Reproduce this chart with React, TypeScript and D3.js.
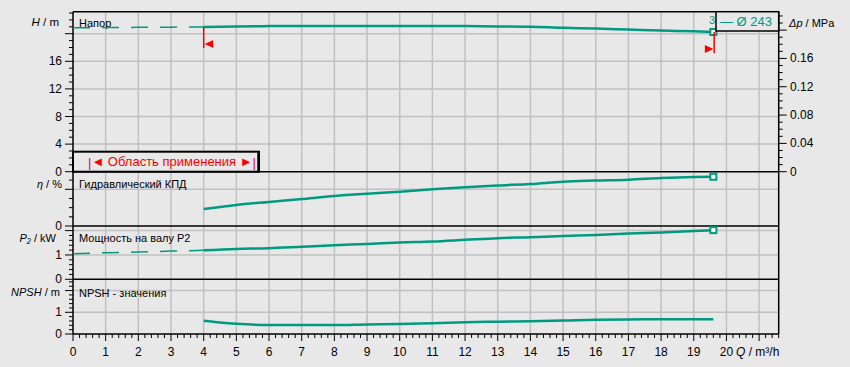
import React from "react";
import * as d3 from "d3";

const flowH = [0, 1, 2, 3, 4, 5, 6, 8, 10, 12, 13, 14, 15, 16, 17, 18, 19, 19.6];
const head = [20.85, 20.9, 20.92, 20.95, 20.98, 21.05, 21.1, 21.12, 21.12, 21.1, 21.05, 21.0, 20.85, 20.75, 20.6, 20.45, 20.35, 20.25];

const flowEta = [4, 4.5, 5, 6, 7, 8, 9, 10, 11, 12, 13, 14, 15, 16, 17, 18, 19, 19.6];
const eta = [18.5, 20.7, 22.9, 26.2, 29.4, 32.7, 35.2, 37.4, 40, 42.2, 44.2, 45.8, 48.3, 49.5, 50.5, 52.3, 53.4, 53.7];

const flowP2 = [0, 1, 2, 3, 4, 5, 6, 7, 8, 9, 10, 11, 12, 13, 14, 15, 16, 17, 18, 19, 19.6];
const power = [1.05, 1.09, 1.12, 1.16, 1.19, 1.25, 1.28, 1.34, 1.4, 1.45, 1.51, 1.55, 1.62, 1.69, 1.73, 1.78, 1.82, 1.88, 1.92, 1.98, 2.02];

const flowN = [4, 4.5, 5, 6, 7, 8, 9, 10, 11, 12, 13, 14, 15, 16, 17, 18, 19, 19.6];
const npsh = [0.61, 0.53, 0.47, 0.41, 0.41, 0.41, 0.44, 0.46, 0.5, 0.54, 0.57, 0.59, 0.62, 0.66, 0.67, 0.68, 0.68, 0.68];

const xTickLabels = d3.range(0, 21);
const hTickLabels = [0, 4, 8, 12, 16];
const pTickLabels = ["0", "0.04", "0.08", "0.12", "0.16"];
const qMin = 4;
const qMax = 19.6;

const TEAL = "#009a80";
const RED = "#ff0000";
const BG = "#e8e8e8";
const GRID = "#c0c0c0";
const FONT = "'Liberation Sans', Arial, sans-serif";

const L = 73, R = 778.7, T = 11.7;
const yHb = 171.7, yEb = 226, yPb = 279.3, yNb = 334;

const x = d3.scaleLinear().domain([0, 21.6]).range([L, R]);
const yH = d3.scaleLinear().domain([0, 160 / 6.9]).range([yHb, T]);
const yDp = d3.scaleLinear().domain([0, 160 / 6.9 / 102.6]).range([yHb, T]);
const yE = d3.scaleLinear().domain([0, 59.2]).range([yEb, yHb]);
const yP = d3.scaleLinear().domain([0, 2.19]).range([yPb, yEb]);
const yN = d3.scaleLinear().domain([0, 2.52]).range([yNb, yPb]);

function pts(xs: number[], ys: number[], lo: number, hi: number) {
  return xs.map((q, i) => [q, ys[i]] as [number, number]).filter((d) => d[0] >= lo - 1e-9 && d[0] <= hi + 1e-9);
}

function pathFor(data: [number, number][], ys: d3.ScaleLinear<number, number>) {
  const line = d3.line<[number, number]>().x((d) => x(d[0])).y((d) => ys(d[1])).curve(d3.curveMonotoneX);
  return line(data) || "";
}

export default function App() {
  const hDash = pts(flowH, head, 0, qMin);
  const hSolid = pts(flowH, head, qMin, qMax);
  const pDash = pts(flowP2, power, 0, qMin);
  const pSolid = pts(flowP2, power, qMin, qMax);
  const eSolid = pts(flowEta, eta, qMin, qMax);
  const nSolid = pts(flowN, npsh, qMin, qMax);

  const hAt = (q: number) => head[flowH.indexOf(q)];
  const xs = x(qMin), xe = x(qMax);
  const ys0 = yH(hAt(qMin)), ye0 = yH(hAt(qMax));

  const minorX = d3.range(0, 21.6 + 1e-9, 0.2);
  const hMinor = d3.range(0, 23.1, 1);
  const eMinor = d3.range(0, 51, 10);
  const pMinor = d3.range(0, 2.19, 0.2);
  const nMinor = d3.range(0, 2.52, 0.2);
  const dpMinor = d3.range(0, 0.225, 0.01);

  const leftTick = (y: number, major: boolean, key: string) => (
    <line key={key} x1={L - (major ? 8 : 4)} x2={L} y1={y} y2={y} stroke="#000" strokeWidth={1} />
  );
  const label = (y: number, t: string, key: string) => (
    <text key={key} x={62} y={y} textAnchor="end" dominantBaseline="central" fontSize={12} fontFamily={FONT} fill="#000">{t}</text>
  );

  return (
    <svg width={850} height={367} style={{ position: "absolute", left: 0, top: 0 }} xmlns="http://www.w3.org/2000/svg">
      <rect x={0} y={0} width={850} height={367} fill={BG} />
      {/* vertical grid */}
      {d3.range(1, 22).map((q) => (
        <line key={"vg" + q} x1={x(q)} x2={x(q)} y1={T} y2={yNb} stroke={GRID} strokeWidth={1.5} />
      ))}
      {/* horizontal grid */}
      {[4, 8, 12, 16, 20].map((h) => (
        <line key={"hg" + h} x1={L} x2={R} y1={yH(h)} y2={yH(h)} stroke={GRID} strokeWidth={1.5} />
      ))}
      <line x1={L} x2={R} y1={yE(40)} y2={yE(40)} stroke={GRID} strokeWidth={1.5} />
      {[1, 2].map((p) => (
        <line key={"pg" + p} x1={L} x2={R} y1={yP(p)} y2={yP(p)} stroke={GRID} strokeWidth={1.5} />
      ))}
      {[1, 2].map((n) => (
        <line key={"ng" + n} x1={L} x2={R} y1={yN(n)} y2={yN(n)} stroke={GRID} strokeWidth={1.5} />
      ))}

      {/* panel separators and frame */}
      {[T, yHb, yEb, yPb, yNb].map((y, i) => (
        <line key={"sep" + i} x1={L} x2={R} y1={y} y2={y} stroke="#000" strokeWidth={1.5} />
      ))}
      <line x1={L} x2={L} y1={T} y2={yNb} stroke="#000" strokeWidth={1.5} />
      <line x1={R} x2={R} y1={T} y2={yNb} stroke="#000" strokeWidth={1.5} />

      {/* left ticks */}
      {hMinor.map((h) => leftTick(yH(h), h % 4 === 0, "ht" + h))}
      {eMinor.map((e) => leftTick(yE(e), e === 0 || e === 40, "et" + e))}
      {pMinor.map((p, i) => leftTick(yP(p), i % 5 === 0, "pt" + i))}
      {nMinor.map((n, i) => leftTick(yN(n), i % 5 === 0, "nt" + i))}
      {hTickLabels.map((h) => label(yH(h), String(h), "hl" + h))}
      {label(yE(0), "0", "el0")}
      {label(yP(0), "0", "pl0")}
      {label(yP(1), "1", "pl1")}
      {label(yN(0), "0", "nl0")}
      {label(yN(1), "1", "nl1")}

      {/* right ticks */}
      {dpMinor.map((p, i) => (
        <line key={"dt" + i} x1={R} x2={R + (i % 4 === 0 ? 8 : 4)} y1={yDp(p)} y2={yDp(p)} stroke="#000" strokeWidth={1} />
      ))}
      {pTickLabels.map((t) => (
        <text key={"dl" + t} x={790} y={yDp(+t)} dominantBaseline="central" fontSize={12} fontFamily={FONT} fill="#000">{t}</text>
      ))}

      {/* bottom ticks */}
      {minorX.map((q, i) => (
        <line key={"xt" + i} x1={x(q)} x2={x(q)} y1={yNb} y2={yNb + (i % 5 === 0 ? 7 : 4)} stroke="#000" strokeWidth={1} />
      ))}
      {xTickLabels.map((q) => (
        <text key={"xl" + q} x={x(q)} y={352} textAnchor="middle" dominantBaseline="central" fontSize={12} fontFamily={FONT} fill="#000">{q}</text>
      ))}
      <text x={736} y={352} dominantBaseline="central" fontSize={12} fontFamily={FONT} fill="#000">
        <tspan fontStyle="italic">Q</tspan> / m³/h
      </text>

      {/* axis titles */}
      <text x={59} y={22} textAnchor="end" dominantBaseline="central" fontSize={11.5} fontFamily={FONT}>
        <tspan fontStyle="italic">H</tspan> / m
      </text>
      <text x={62} y={184} textAnchor="end" dominantBaseline="central" fontSize={11} fontFamily={FONT}>
        <tspan fontStyle="italic">η</tspan> / %
      </text>
      <text x={56} y={237.5} textAnchor="end" dominantBaseline="central" fontSize={11} fontFamily={FONT}>
        <tspan fontStyle="italic">P₂</tspan> / kW
      </text>
      <text x={60} y={291.5} textAnchor="end" dominantBaseline="central" fontSize={11} fontFamily={FONT}>
        <tspan fontStyle="italic">NPSH</tspan> / m
      </text>
      <text x={789} y={23} dominantBaseline="central" fontSize={11} fontFamily={FONT}>
        <tspan fontStyle="italic">Δp</tspan> / MPa
      </text>

      {/* panel titles */}
      <text x={79} y={23.3} dominantBaseline="central" fontSize={11} fontFamily={FONT}>Напор</text>
      <text x={79} y={184.3} dominantBaseline="central" fontSize={11} fontFamily={FONT}>Гидравлический КПД</text>
      <text x={79} y={237.7} dominantBaseline="central" fontSize={11} fontFamily={FONT}>Мощность на валу P2</text>
      <text x={79} y={292.7} dominantBaseline="central" fontSize={11} fontFamily={FONT}>NPSH  - значения</text>

      {/* curves */}
      <path d={pathFor(hDash, yH)} fill="none" stroke={TEAL} strokeWidth={1.5} strokeDasharray="17 12" />
      <path d={pathFor(hSolid, yH)} fill="none" stroke={TEAL} strokeWidth={2.5} />
      <path d={pathFor(pDash, yP)} fill="none" stroke={TEAL} strokeWidth={1.5} strokeDasharray="17 12" />
      <path d={pathFor(pSolid, yP)} fill="none" stroke={TEAL} strokeWidth={2.5} />
      <path d={pathFor(eSolid, yE)} fill="none" stroke={TEAL} strokeWidth={2.5} />
      <path d={pathFor(nSolid, yN)} fill="none" stroke={TEAL} strokeWidth={2.5} />

      {/* end markers */}
      {[yH(hAt(qMax)), yE(eta[eta.length - 1]), yP(power[power.length - 1])].map((y, i) => (
        <rect key={"m" + i} x={xe - 3} y={y - 3} width={6} height={6} fill="#fff" stroke={TEAL} strokeWidth={2} />
      ))}

      {/* red operating range markers */}
      <line x1={xs} x2={xs} y1={ys0} y2={ys0 + 21} stroke={RED} strokeWidth={1.5} />
      <polygon points={`${xs + 1},${ys0 + 17} ${xs + 9.5},${ys0 + 13} ${xs + 9.5},${ys0 + 21}`} fill={RED} />
      <line x1={xe + 0.8} x2={xe + 0.8} y1={ye0} y2={ye0 + 21} stroke={RED} strokeWidth={1.5} />
      <polygon points={`${xe},${ye0 + 17} ${xe - 8.5},${ye0 + 13} ${xe - 8.5},${ye0 + 21}`} fill={RED} />

      {/* curve label and legend */}
      <text x={709} y={24} fontSize={11} fontFamily={FONT} fill={TEAL}>3</text>
      <rect x={716} y={T} width={R - 716} height={19.3} fill={BG} stroke="#000" strokeWidth={1.5} />
      <text x={720} y={21.5} dominantBaseline="central" fontSize={13} fontFamily={FONT} fill={TEAL}>— Ø 243</text>

      {/* operating range box */}
      <rect x={L} y={151.7} width={186} height={20} fill={BG} stroke="#000" strokeWidth={2} />
      <line x1={258} x2={258} y1={153} y2={172} stroke="#000" strokeWidth={1.5} />
      <text x={88} y={161.5} dominantBaseline="central" fontSize={13} fontFamily={FONT} fill={RED}>
        <tspan fill="#e0005a">|</tspan>◄ Область применения ►<tspan fill="#e0005a">|</tspan>
      </text>
    </svg>
  );
}
